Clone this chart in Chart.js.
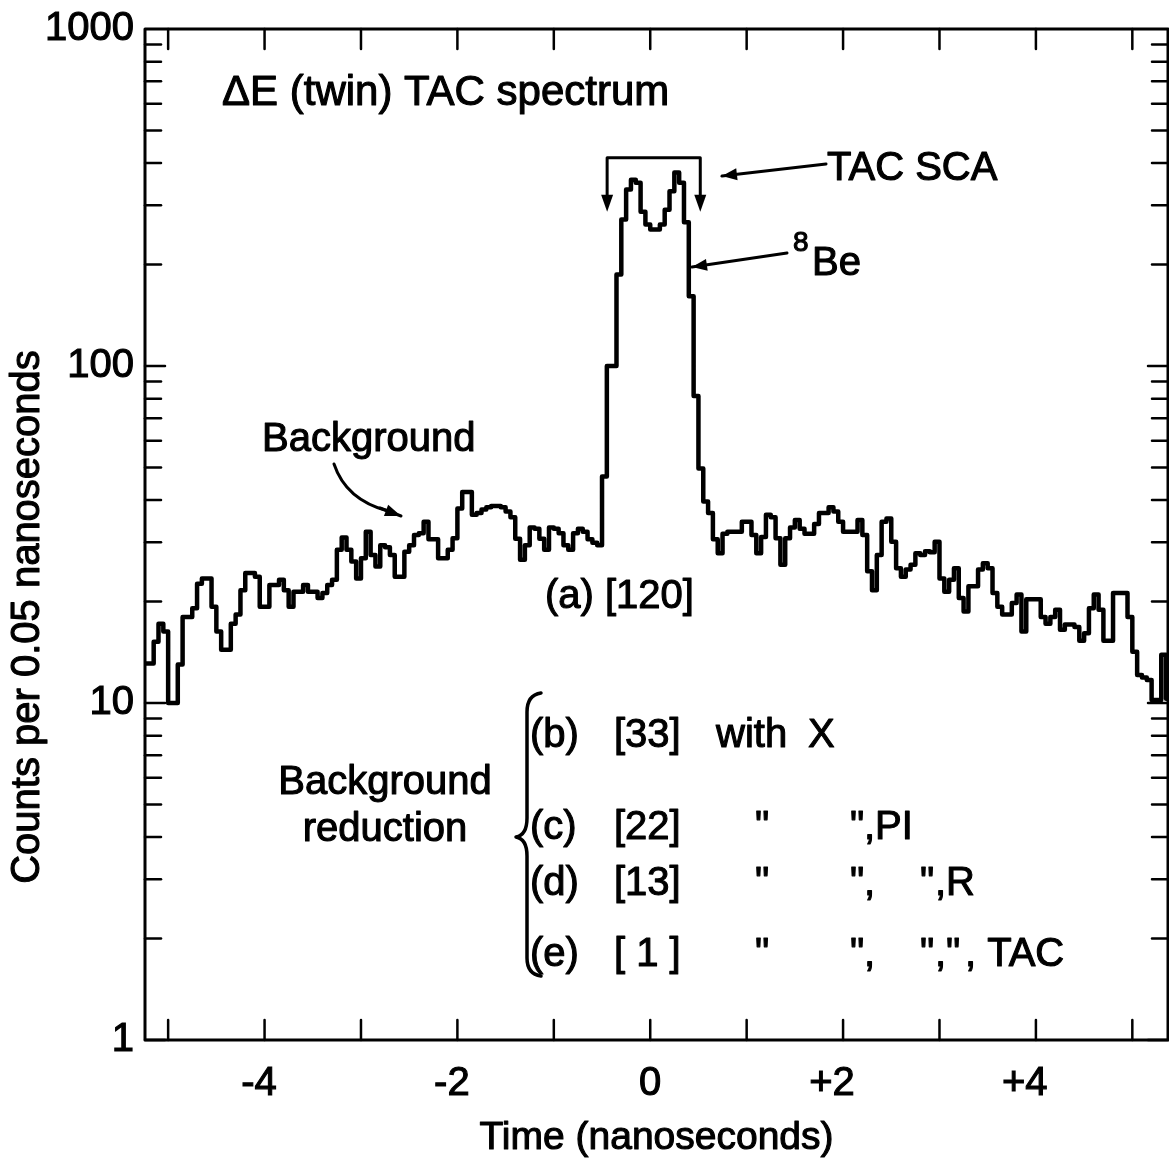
<!DOCTYPE html>
<html><head><meta charset="utf-8">
<script src="https://cdn.jsdelivr.net/npm/chart.js@4/dist/chart.umd.min.js"></script>
<style>html,body{margin:0;padding:0;background:#fff;}#wrap{width:1169px;height:1168px;}</style>
</head><body><div id="wrap"><canvas id="c" width="1169" height="1168"></canvas></div>
<script>
// ---- data (counts per 0.05 ns bin) ----
const binStart = -5.25;      // ns, left edge of first bin
const binWidth = 0.05;       // ns per bin
const counts = [
 13.1,13.1,15.2,17.2,16.3,10,10,13,18,18,
 19.1,22.6,23.4,23.4,19.3,16.3,14.4,14.4,17.2,18.3,
 21.6,24.3,24.3,23.7,19.3,19.3,22.4,22.4,23.2,21.6,
 19.3,21.4,21.4,22.4,21.4,21.4,20.5,21.2,22.4,23.2,
 28.5,31,28.5,26.3,23.4,26.9,32.2,27.5,25.4,29.4,
 29.0,27.5,23.7,23.7,28.1,29.4,31.5,31.9,34.5,30.6,
 30.6,26.9,26.9,28.5,30.8,37.8,42.3,42.3,36.2,36.6,
 37.5,38.1,38.4,38.4,38.1,37.0,35.6,30.7,26.6,29.4,
 33.2,32.9,30.7,28.5,33.2,32.9,31.9,29.4,28.5,31.9,
 32.9,32.2,30.6,29.9,29.4,47,100,100,187,272,
 334,357,350,287,263,254,254,263,291,330,
 375,350,267,161,81.5,49.6,39.6,36.6,30.6,27.8,
 31.8,32.2,32.2,32.2,34.5,34.5,31.5,27.8,31.1,36.2,
 35.6,30.8,25.7,30.8,33.2,34.9,32.9,31.8,31.8,34.0,
 36.6,36.6,38.1,37.0,34.5,32.2,32.2,32.2,34.9,31.5,
 24.6,21.6,27.5,34.5,35.3,30.1,25.1,23.7,24.9,25.7,
 27.8,27.5,28.2,28.0,30.1,23.4,21.4,23.2,25.1,20.5,
 18.7,22.2,22.2,24.9,26.0,25.1,21.2,19.3,18.3,18.3,
 19.8,21.0,16.3,20.3,20.3,20.3,18.0,17.2,18.0,18.9,
 16.5,17.1,17.1,16.8,15.3,16.1,19.1,21.0,18.9,15.3,
 15.3,21.2,21.2,21.2,18.0,14.2,12.1,11.9,11.7,10.2,
 10.2,13.9,10.3
];
const xTickValues = [-5,-4,-3,-2,-1,0,1,2,3,4,5];
const xTickLabels = {"-4":"-4 ","-2":"-2 ","0":"0","2":"+2  ","4":"+4  "};
const yTickValues = [1,10,100,1000];
const yTickLabels = {"1":"1","10":"10","100":"100","1000":"1000"};

const points = counts.map((c,i)=>({x: binStart + i*binWidth, y: c}));
points.push({x: binStart + counts.length*binWidth, y: counts[counts.length-1]});

const FONT = '"Liberation Sans", Arial, sans-serif';
const TSTROKE = 1.1;

const notes = {
  id:'notes',
  afterDraw(chart){
    const {ctx, chartArea:a, scales:{x,y}} = chart;
    ctx.save();
    ctx.strokeStyle='#000'; ctx.fillStyle='#000';
    ctx.lineCap='round'; ctx.lineJoin='round';
    // frame
    ctx.lineWidth=3;
    ctx.strokeRect(a.left, a.top, a.right-a.left, a.bottom-a.top);
    // x ticks (inward, top and bottom)
    ctx.lineWidth=2.5;
    xTickValues.forEach(v=>{
      const px=x.getPixelForValue(v);
      ctx.beginPath(); ctx.moveTo(px,a.bottom); ctx.lineTo(px,a.bottom-20); ctx.stroke();
      ctx.beginPath(); ctx.moveTo(px,a.top); ctx.lineTo(px,a.top+20); ctx.stroke();
    });
    // y ticks (inward, left and right)
    [1,10,100].forEach(d=>{
      for(let m=1;m<=9;m++){
        const py=y.getPixelForValue(d*m);
        const len = m===1?20:16;
        ctx.beginPath(); ctx.moveTo(a.left,py); ctx.lineTo(a.left+len,py); ctx.stroke();
        ctx.beginPath(); ctx.moveTo(a.right,py); ctx.lineTo(a.right-len,py); ctx.stroke();
      }
    });
    const txt=(s,px,py,size=40,align='left')=>{
      ctx.font=size+'px '+FONT; ctx.textAlign=align; ctx.textBaseline='middle';
      ctx.fillText(s,px,py);
      const lw=ctx.lineWidth; ctx.lineWidth=TSTROKE; ctx.strokeText(s,px,py); ctx.lineWidth=lw;
    };
    // axis titles
    ctx.save(); ctx.translate(28,617); ctx.rotate(-Math.PI/2);
    txt('Counts per 0.05 nanoseconds',0,0,40,'center'); ctx.restore();
    txt('Time (nanoseconds)',(a.left+a.right)/2,1138,39,'center');

    const arrow=(x1,y1,x2,y2,len=15,hw=6)=>{
      ctx.beginPath(); ctx.moveTo(x1,y1); ctx.lineTo(x2,y2); ctx.stroke();
      const ang=Math.atan2(y2-y1,x2-x1);
      ctx.beginPath();
      ctx.moveTo(x2,y2);
      ctx.lineTo(x2-len*Math.cos(ang)+hw*Math.sin(ang), y2-len*Math.sin(ang)-hw*Math.cos(ang));
      ctx.lineTo(x2-len*Math.cos(ang)-hw*Math.sin(ang), y2-len*Math.sin(ang)+hw*Math.cos(ang));
      ctx.closePath(); ctx.fill();
    };
    ctx.lineWidth=3;
    // TAC SCA bracket
    const bx1=x.getPixelForValue(-0.447), bx2=x.getPixelForValue(0.519);
    const byT=y.getPixelForValue(415), byB=y.getPixelForValue(287);
    ctx.beginPath(); ctx.moveTo(bx1,byB-14); ctx.lineTo(bx1,byT); ctx.lineTo(bx2,byT); ctx.lineTo(bx2,byB-14); ctx.stroke();
    [bx1,bx2].forEach(bx=>{
      ctx.beginPath(); ctx.moveTo(bx,byB); ctx.lineTo(bx-6,byB-17); ctx.lineTo(bx+6,byB-17); ctx.closePath(); ctx.fill();
    });
    arrow(826,164,722,176);
    txt('TAC SCA',827,169);
    // 8Be
    arrow(787,253,692,267);
    txt('8',793,243,28);
    txt('Be',812,264,40);
    // title
    txt('\u0394E (twin) TAC spectrum',222,93,42);
    // Background label with curved arrow
    txt('Background',262,440);
    ctx.beginPath(); ctx.moveTo(334,464); ctx.quadraticCurveTo(346,500,388,511); ctx.stroke();
    arrow(380,508,401,516,16,6);
    txt('(a) [120]',545,597);
    // Background reduction
    txt('Background',385,783,40,'center');
    txt('reduction',385,830,40,'center');
    // brace
    ctx.lineWidth=3.5;
    ctx.beginPath();
    ctx.moveTo(541,693); ctx.quadraticCurveTo(527,695,527,712);
    ctx.lineTo(527,818); ctx.quadraticCurveTo(527,835,516,837);
    ctx.quadraticCurveTo(527,839,527,856);
    ctx.lineTo(527,958); ctx.quadraticCurveTo(527,974,541,976);
    ctx.stroke();
    const rows=[
      [736,[['(b)',530],['[33]',614],['with',716],['X',808]]],
      [828,[['(c)',530],['[22]',614],['"',755],['"',850],[',PI',864]]],
      [884,[['(d)',530],['[13]',614],['"',755],['"',850],[',',864],['"',920],[',R',935]]],
      [955,[['(e)',530],['[ 1 ]',614],['"',755],['"',850],[',',864],['"',920],[',"',935],[', TAC',965]]]
    ];
    rows.forEach(([ry,toks])=>toks.forEach(([s,tx])=>txt(s,tx,ry)));
    ctx.restore();
  }
};

new Chart(document.getElementById('c'), {
  type:'line',
  data:{datasets:[{
    data:points, stepped:true, borderColor:'#000', borderWidth:4.5,
    pointRadius:0, fill:false, tension:0, borderJoinStyle:'round', borderCapStyle:'round'
  }]},
  options:{
    responsive:false, animation:false, devicePixelRatio:1,
    layout:{padding:{top:29,right:1,left:0,bottom:0}},
    plugins:{legend:{display:false}, tooltip:{enabled:false}},
    scales:{
      x:{type:'linear', min:-5.24, max:5.37,
        afterBuildTicks:s=>{s.ticks=xTickValues.map(v=>({value:v}));},
        afterFit:s=>{s.height=128; s.paddingLeft=0; s.paddingRight=0;},
        grid:{display:false}, border:{display:false},
        ticks:{autoSkip:false, maxRotation:0, padding:12, color:'#000',
          textStrokeColor:'#000', textStrokeWidth:TSTROKE,
          font:{family:FONT,size:40},
          callback:v=>xTickLabels[String(v)] ?? ''},
        title:{display:false}
      },
      y:{type:'logarithmic', min:1, max:1000,
        afterBuildTicks:s=>{s.ticks=yTickValues.map(v=>({value:v}));},
        afterFit:s=>{s.width=145; s.paddingTop=0; s.paddingBottom=0;},
        grid:{display:false}, border:{display:false},
        ticks:{padding:3, color:'#000', textStrokeColor:'#000', textStrokeWidth:TSTROKE,
          font:{family:FONT,size:40},
          callback:v=>yTickLabels[String(v)] ?? ''}
      }
    }
  },
  plugins:[notes]
});
</script></body></html>
